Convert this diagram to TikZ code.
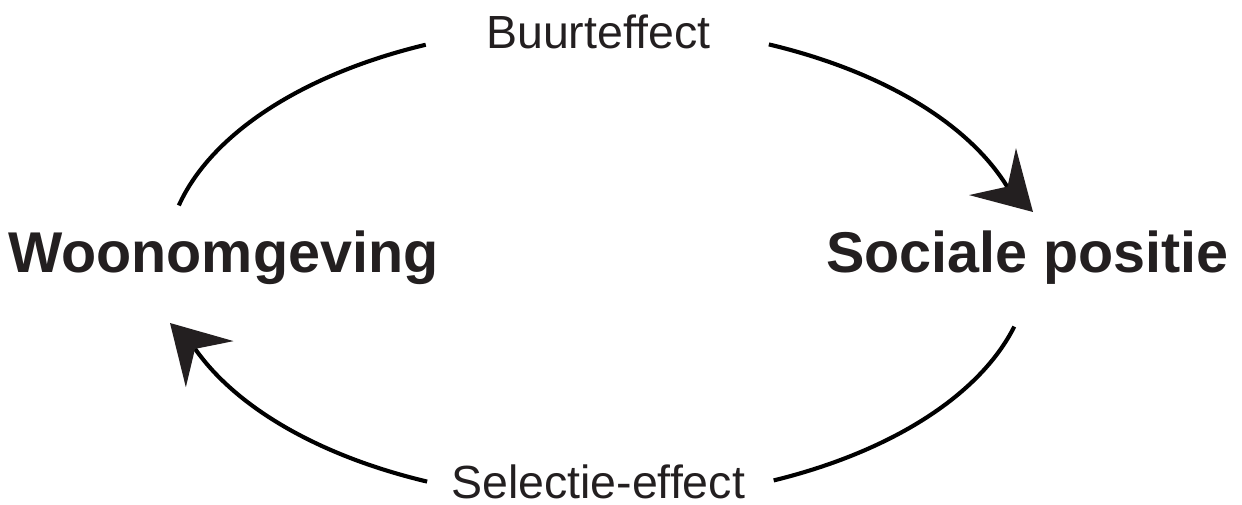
\documentclass[tikz,border=0pt]{standalone}
\usepackage{fontspec}
\setmainfont{Liberation Sans}
\usetikzlibrary{arrows.meta,calc}
\definecolor{ink}{RGB}{35,31,32}
\tikzset{
  conn/.style={line width=4.1pt, black},
  headtip/.style={-{Stealth[length=57pt,width=66pt,inset=21pt,color=ink]}},
  bigtext/.style={anchor=base west, inner sep=0pt, text=ink, font=\fontsize{57.5}{60}\selectfont\bfseries},
  smalltext/.style={anchor=base west, inner sep=0pt, text=ink, font=\fontsize{46.5}{50}\selectfont}
}
\begin{document}
\begin{tikzpicture}[x=1pt,y=1pt]
\useasboundingbox (0,0) rectangle (1242,504);
% labels
\node[bigtext] (woon) at (8,232) {Woonomgeving};
\node[bigtext] (soc) at (826,232) {Sociale positie};
\node[smalltext] (buurt) at (486,455.7) {Buurteffect};
\node[smalltext] (sel) at (451,5.5) {Selectie-effect};
% ellipse centre and connector ends
\coordinate (ctr) at (598,241);
\coordinate (tl1) at ($(ctr)+(166:432pt and 238pt)$);
\coordinate (tr1) at ($(ctr)+(66.7:432pt and 238pt)$);
\coordinate (tip1) at (1033,292);
\coordinate (br1) at ($(ctr)+(-15.5:432pt and 238pt)$);
\coordinate (bl1) at ($(ctr)+(-113.3:432pt and 238pt)$);
\coordinate (tip2) at (170,181);
% Buurteffect: Woonomgeving -> Sociale positie
\draw[conn] (tl1) arc[start angle=166, end angle=113.5, x radius=432pt, y radius=238pt];
\draw[conn,headtip] (tr1) arc[start angle=66.7, end angle=19, x radius=432pt, y radius=238pt] -- (tip1);
% Selectie-effect: Sociale positie -> Woonomgeving
\draw[conn] (br1) arc[start angle=-15.5, end angle=-66, x radius=432pt, y radius=238pt];
\draw[conn,headtip] (bl1) arc[start angle=-113.3, end angle=-158.7, x radius=432pt, y radius=238pt] -- (tip2);
\end{tikzpicture}
\end{document}
